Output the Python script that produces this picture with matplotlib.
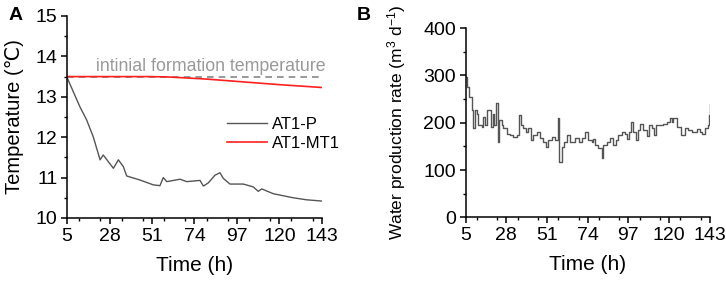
import matplotlib

matplotlib.use("Agg")
import matplotlib.pyplot as plt
from matplotlib.ticker import MultipleLocator

plt.rcParams["font.family"] = ["Liberation Sans", "DejaVu Sans"]
plt.rcParams["mathtext.fontset"] = "custom"
plt.rcParams["mathtext.rm"] = "Liberation Sans"
plt.rcParams["mathtext.it"] = "Liberation Sans:italic"

# panel A: temperature (deg C) vs time (h)
p_time = [5, 12.0, 15.6, 19.2, 22.9, 24.6, 30.1, 32.8, 35.5, 37.3, 44.5, 51.7, 55.3,
          57.1, 59.0, 66.2, 69.8, 77.0, 78.8, 81.5, 85.1, 87.8, 89.6, 93.2, 100.4,
          105.8, 108.5, 110.4, 116.7, 127.5, 134.7, 142.8]
p_temp = [13.48, 12.75, 12.43, 12.01, 11.44, 11.56, 11.23, 11.44, 11.27, 11.04, 10.94,
          10.82, 10.80, 11.0, 10.90, 10.96, 10.90, 10.93, 10.79, 10.87, 11.06, 11.12,
          10.98, 10.84, 10.84, 10.77, 10.66, 10.72, 10.60, 10.50, 10.45, 10.42]
mt_time = [5, 50, 60, 80, 100, 120, 143]
mt_temp = [13.5, 13.5, 13.49, 13.44, 13.37, 13.30, 13.23]
init_temp = 13.5

# panel B: water production rate (m3/d) vs time (h)
w_time = [5, 6, 7.1, 8.5, 9.1, 10.4, 11.3, 12.2, 14.2, 15.1, 16.0, 17, 18.4, 19.2,
          20.4, 21.2, 22.3, 23.2, 24.1, 25.4, 26.3, 28.3, 30.2, 32.1, 34, 35.3, 36.2,
          37.7, 39.2, 40.5, 41.9, 43.4, 45.3, 47.1, 49, 50.5, 51.9, 53.8, 55.7, 57.2,
          58.1, 59.5, 60.8, 62.3, 64.2, 67.1, 69, 70.8, 72.7, 74.5, 76.4, 77.3, 78.2,
          80.1, 82, 82.9, 84.8, 86.7, 88.6, 89.9, 91.4, 93.3, 95.2, 96.1, 97.5, 98.6,
          99.9, 101.2, 102.7, 103.7, 105.5, 107.4, 108.7, 110.2, 111.6, 112.7, 115,
          116.9, 118.8, 120.7, 121.6, 122.5, 124.4, 126.9, 129.2, 131, 132.9, 135.8,
          137.6, 139, 140.5, 142, 142.7, 143.3]
w_rate = [296, 275, 254, 226, 188, 226, 219, 195, 191, 212, 195, 226, 226, 191,
          219, 195, 242, 160, 205, 195, 188, 177, 174, 170, 174, 216, 195,
          188, 181, 188, 163, 174, 181, 167, 160, 149, 163, 170, 163, 209,
          117, 149, 160, 174, 160, 167, 160, 167, 181, 163, 160, 165, 153,
          146, 125, 153, 160, 167, 153, 163, 174, 181, 177, 165, 181, 202,
          181, 163, 184, 198, 184, 172, 195, 188, 174, 195, 195,
          198, 202, 209, 202, 211, 191, 174, 188, 184, 181, 186,
          181, 177, 188, 195, 216, 240]

xticks = [5, 28, 51, 74, 97, 120, 143]

fig = plt.figure(figsize=(7.26, 2.83), dpi=100)
ax_a = fig.add_axes([0.0923, 0.2297, 0.3512, 0.7138])
ax_b = fig.add_axes([0.6412, 0.2315, 0.3361, 0.6695])


def style_axis(ax):
    for side in ("top", "right"):
        ax.spines[side].set_visible(False)
    for side in ("left", "bottom"):
        ax.spines[side].set_linewidth(1.1)
    ax.set_xlim(5, 143)
    ax.set_xticks(xticks)
    ax.xaxis.set_minor_locator(MultipleLocator(11.5))
    ax.tick_params(which="major", direction="out", length=4, width=1.1, labelsize=14, pad=3)
    ax.tick_params(which="minor", direction="out", length=2.5, width=1.0)
    ax.set_xlabel("Time (h)", fontsize=15, labelpad=8)


style_axis(ax_a)
ax_a.plot(p_time, p_temp, color="#555555", lw=1.0, label="AT1-P")
ax_a.plot(mt_time, mt_temp, color="#ff2020", lw=1.2, label="AT1-MT1")
ax_a.plot([5, 143], [init_temp, init_temp], color="#888888", lw=1.2, ls=(0, (4, 3)), zorder=1)
ax_a.text(83, 13.74, "intinial formation temperature", color="#999999", fontsize=12.8,
          ha="center", va="center")
ax_a.set_ylim(10, 15)
ax_a.yaxis.set_major_locator(MultipleLocator(1))
ax_a.yaxis.set_minor_locator(MultipleLocator(0.5))
ax_a.set_ylabel("Temperature (℃)", fontsize=14.5, labelpad=8)
ax_a.legend(loc="upper left", bbox_to_anchor=(0.6, 0.535), frameon=False, fontsize=12,
            handlelength=2.4, handletextpad=0.3, labelspacing=0.25, borderaxespad=0)

style_axis(ax_b)
ax_b.plot(w_time, w_rate, color="#555555", lw=1.0, drawstyle="steps-post")
ax_b.set_ylim(0, 400)
ax_b.yaxis.set_major_locator(MultipleLocator(100))
ax_b.yaxis.set_minor_locator(MultipleLocator(50))
ax_b.set_ylabel("Water production rate (m$^3$ d$^{-1}$)", fontsize=12.5, labelpad=11)

fig.text(0.012, 0.945, "A", fontsize=14, fontweight="bold", va="center")
fig.text(0.492, 0.945, "B", fontsize=14, fontweight="bold", va="center")

fig.savefig("out.png", dpi=100)
